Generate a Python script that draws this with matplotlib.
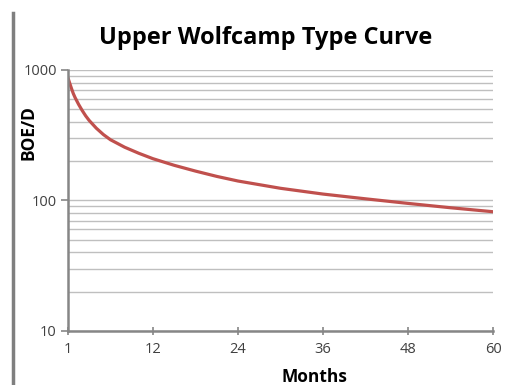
import matplotlib.pyplot as plt
import matplotlib.ticker as mticker
from matplotlib.lines import Line2D

plt.rcParams['font.family'] = ['Open Sans', 'DejaVu Sans']

# months since first production (axis labelled 1..60) and rate
months = [0, 0.25, 0.5, 0.75, 1, 1.5, 2, 2.5, 3, 4, 5, 6, 8, 10, 12, 15, 18, 21, 24, 30, 36, 42, 48, 54, 60]
boed = [870, 790, 720, 660, 615, 545, 490, 445, 410, 358, 320, 292, 256, 230, 209, 186, 168, 153, 141, 124, 112, 103, 95, 88, 82]
xticks = [0, 12, 24, 36, 48, 60]
xlabels = ['1', '12', '24', '36', '48', '60']
yticks = [10, 100, 1000]

fig = plt.figure(figsize=(5.1, 3.85), dpi=100)
ax = fig.add_axes([0.1333, 0.1403, 0.8334, 0.6779])

ax.plot(months, boed, color='#C0504D', lw=2.3, solid_capstyle='round', solid_joinstyle='round')

ax.set_yscale('log')
ax.set_ylim(10, 1000)
ax.set_xlim(0, 60)

ax.set_yticks(yticks)
ax.yaxis.set_major_formatter(mticker.FormatStrFormatter('%d'))
ax.yaxis.set_minor_locator(mticker.LogLocator(base=10, subs=range(2, 10)))
ax.yaxis.set_minor_formatter(mticker.NullFormatter())
ax.set_xticks(xticks)
ax.set_xticklabels(xlabels)

ax.grid(True, which='both', axis='y', color='#BFBFBF', lw=1.0)
ax.set_axisbelow(True)

for s in ['top', 'right']:
    ax.spines[s].set_visible(False)
for s in ['left', 'bottom']:
    ax.spines[s].set_color('#868686')
    ax.spines[s].set_linewidth(1.8)

ax.tick_params(axis='y', which='major', direction='out', length=5, width=1.2, color='#868686',
               labelsize=10.5, labelcolor='#404040', pad=3)
ax.tick_params(axis='y', which='minor', length=0)
ax.tick_params(axis='x', direction='inout', length=6, width=1.2, color='#868686',
               labelsize=10.5, labelcolor='#404040', pad=5)

fig.text(0.52, 0.90, 'Upper Wolfcamp Type Curve', ha='center', va='center',
         fontsize=17, fontweight='bold', color='#000000')
fig.text(0.616, 0.02, 'Months', ha='center', va='center', fontsize=12.5, fontweight='bold')
fig.text(0.055, 0.655, 'BOE/D', ha='center', va='center', rotation=90, fontsize=12.5, fontweight='bold')

# grey bar on the left of the slide
fig.add_artist(Line2D([0.026, 0.026], [0.0, 0.965], transform=fig.transFigure,
                      color='#7F7F7F', lw=2.5))

fig.savefig('out.png', dpi=100)
